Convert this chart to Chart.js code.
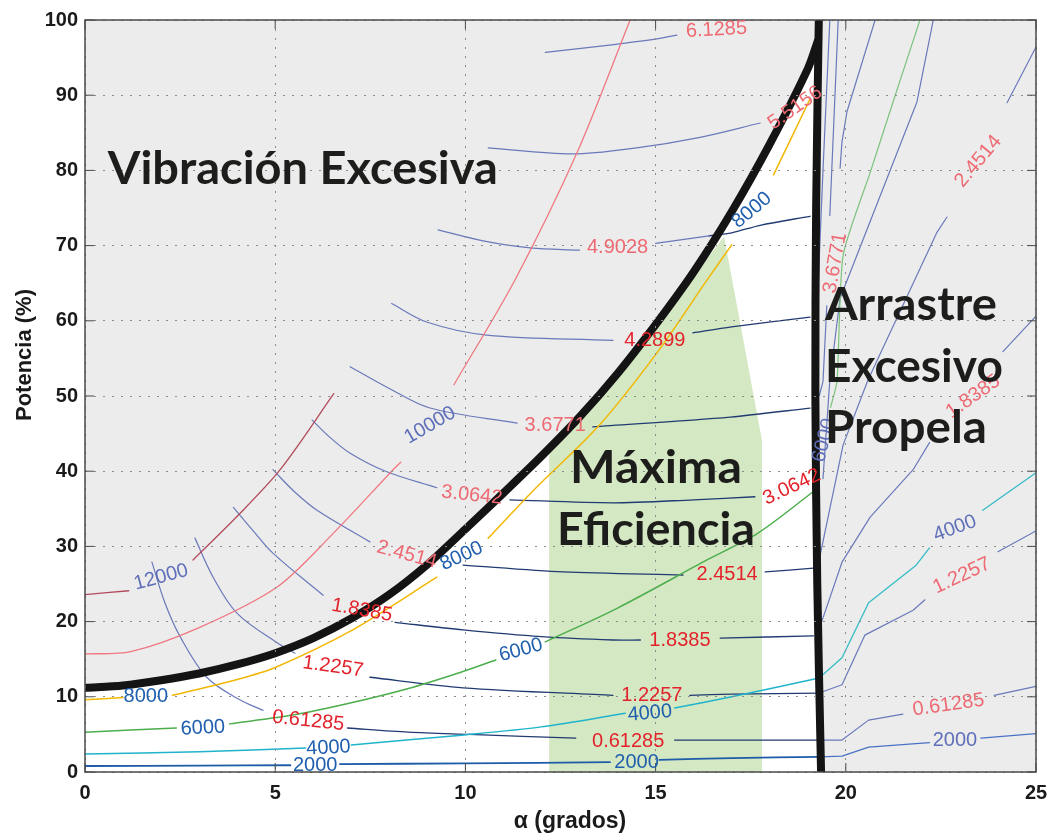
<!DOCTYPE html>
<html>
<head>
<meta charset="utf-8">
<script src="https://cdn.jsdelivr.net/npm/chart.js@4.4.1/dist/chart.umd.min.js"></script>
<style>
  html, body { margin: 0; padding: 0; background: #fff; }
</style>
</head>
<body>
<canvas id="chart" width="1051" height="836"></canvas>
<script>
// ------------------------------
// ejes
// ------------------------------
const xTicks = [0, 5, 10, 15, 20, 25];
const yTicks = [0, 10, 20, 30, 40, 50, 60, 70, 80, 90, 100];

// ------------------------------
// limites de operacion
// ------------------------------
const vibLimit = [[0,11.2],[1,11.5],[2,12.2],[3,13.1],[4,14.3],[5,15.8],[6,17.8],[7,20.4],[8,23.6],
  [9,27.6],[10,32.3],[11,37.1],[12,42.0],[13,47.2],[14,53.0],[15,59.5],[16,66.5],[17,74.5],
  [18,83.5],[19,93.5],[19.27,97.3]];
const dragLimit = [[19.29,100],[19.22,75],[19.2,50],[19.25,25],[19.35,0]];
const maxEffZone = [[12.2,0],[12.2,42.3],[13,46.8],[14,52.6],[15,59],[16,66],[16.8,71.2],[17.8,44],[17.8,0]];

// ------------------------------
// curvas de rpm (null = hueco para la etiqueta)
// ------------------------------
const rpm2000 = [[0,0.8],[3,0.85],[5.4,0.9],null,[6.7,1.05],[10,1.15],[13.8,1.3],null,[15.1,1.6],[17,1.85],[19.3,2.0]];
const rpm2000R = [[19.3,2.0],[19.9,2.1],[20.6,3.3],[22.2,3.9],null,[23.55,4.5],[25,5.1]];
const rpm4000 = [[0,2.4],[3,2.7],[5.8,3.2],null,[7.0,3.6],[9.9,4.9],[12,6.0],[14.2,7.8],null,[15.5,8.5],[17,10.0],[19.3,12.5]];
const rpm4000R = [[19.3,12.5],[19.9,15.2],[20.6,22.5],[21.85,27.5],[22.2,29.8],null,[23.6,34.8],[25,39.8]];
const rpm6000 = [[0,5.3],[2.4,5.85],null,[3.8,6.4],[5.5,7.6],[7,9.2],[8.5,11.1],[9.9,13.3],[10.8,14.9],null,
  [12.1,17.3],[14,21.8],[16.35,28.2],[17.7,31.8],[19.15,37.3]];
const rpm6000R = [[19.15,37.3],[19.3,40.3],null,[19.6,48.5],[19.77,52],[19.93,68.7],[20.66,80],[21.3,90],[21.95,100]];
const rpm8000 = [[0,9.6],[1.0,9.9],null,[2.3,10.2],[4,12.3],[5,13.9],[7,18.8],[9.25,25.9],null,[10.6,31.1],
  [11.8,37.5],[13.5,46.0],[15,55.5],[16.35,65.4],[17.0,70.1],null,[18.1,79.4],[19.05,89.4]];
const rpm10000 = [[0,15.7],[1.2,16.0],[3,19.2],[5.05,24.6],[6.5,31.6],[8.1,40.2],[8.3,41.2],null,
  [9.7,51.5],[11.3,65.4],[12.93,82.3],[14.33,100]];
const rpm12000 = [[0,23.6],[1.15,24.1],null,[2.84,28.2],[4,34.0],[5.13,40.2],[6.54,50.3]];

// ------------------------------
// curvas de coeficiente (gris / blanco / derecha)
// ------------------------------
const c0612G = [[1.76,27.9],[2.1,22.5],[2.5,18.0],[3.2,12.6],[4.07,9.6],[4.68,8.2]];
const c0612W = [[6.9,5.85],[8.5,5.3],[10.1,5.0],[12.9,4.5],null,[15.5,4.25],[17.5,4.25],[19.3,4.25]];
const c0612R = [[19.3,4.25],[19.9,4.25],[20.6,6.9],[21.5,7.7],null,[23.9,10.2],[25,11.4]];
const c1225G = [[2.89,31.1],[3.37,25.9],[4.0,21.1],[5.05,17.2],[5.52,15.8]];
const c1225W = [[7.49,12.6],[9.94,11.2],[13.88,10.2],null,[15.9,10.2],[17,10.35],[19.3,10.5]];
const c1225R = [[19.3,10.5],[19.9,11.6],[20.5,18.2],[21.77,21.5],[22.08,22.9],null,[24.0,29.3],[25.05,32.2]];
const c1838G = [[3.9,35.2],[4.4,32.2],[4.94,29.1],[6.26,23.5]];
const c1838W = [[8.15,19.9],[9.94,18.9],[12,18.0],[13.88,17.55],[14.6,17.55],null,[16.7,17.8],[19.15,18.1]];
const c1838R = [[19.32,19.3],[19.9,27.9],[20.64,33.9],[21.77,40.2],[22.2,43.8],null,[24.13,55.9],[25.03,60.8]];
const c2451G = [[4.94,40.2],[5.5,37.3],[6.1,34.8],[7.49,30.6]];
const c2451W = [[9.94,27.5],[12.57,26.6],[15.72,26.2],null,[17.88,26.6],[19.15,27.1]];
const c2451R = [[19.3,28.2],[19.93,43.5],[20.58,52.1],[22.4,71.8],[22.66,73.8],null,[24.24,89.0],[25.03,96.7]];
const c3064G = [[5.97,46.8],[6.44,44.5],[6.97,42.4],[7.9,40.0],[9.25,37.8]];
const c3064W = [[11.17,36.2],[13.88,35.8],[16,36.2],[17.61,36.6]];
const c3064R = [[19.4,39.0],[19.58,52.1],[19.85,63.0],[21.87,89.1],[22.3,100]];
const c3677G = [[6.97,53.9],[8.0,51.0],[9.07,48.4],[11.36,46.4]];
const c3677W = [[13.35,45.9],[16.96,47.2],[19.06,48.4]];
const c3677R = [[19.3,50],[19.4,51.9],[19.5,62],null,[19.58,74],[19.8,100]];
const c4289G = [[8.06,62.3],[9.0,59.8],[10.56,58.1],[13.88,57.4]];
const c4289W = [[15.98,58.4],[17,59.2],[19.06,60.5]];
const c4289R = [[19.24,60.8],[19.4,80],[19.58,100]];
const c4902G = [[9.28,72.1],[10.5,70.6],[11.7,69.7],[13.0,69.4],null,[15.0,70.3],[16.4,71.3]];
const c4902W = [[16.4,71.3],[17.0,71.7],[17.75,72.7],[19.06,73.9]];
const c4902R = [[19.85,80.3],[19.9,83.8],[20.03,87.8],[20.77,100]];
const c5515G = [[10.6,83.0],[12.8,82.2],[14.5,83.0],[16.17,84.4],[17.75,86.3]];
const c6128G = [[12.1,95.7],[13.5,96.5],[15.04,97.5],[15.56,98.0]];

// etiquetas de las curvas: texto, x, y, giro (grados), color
const contourLabels = [
  ["0.61285", 5.87, 6.8, 6, "red"], ["1.2257", 6.52, 14.0, 8, "red"], ["1.8385", 7.28, 21.5, 10, "red"],
  ["2.4514", 8.46, 28.9, 15, "pink"], ["3.0642", 10.17, 36.8, 6, "pink"], ["3.6771", 12.36, 46.1, 0, "pink"],
  ["4.2899", 14.98, 57.4, 0, "red"], ["4.9028", 14.0, 69.7, 0, "pink"], ["5.5156", 18.67, 88.3, -35, "pink"],
  ["6.1285", 16.6, 98.7, -3, "pink"],
  ["0.61285", 14.28, 4.1, 0, "red"], ["1.2257", 14.9, 10.2, 0, "red"], ["1.8385", 15.64, 17.55, 0, "red"],
  ["2.4514", 16.88, 26.2, 0, "red"], ["3.0642", 18.58, 37.9, -25, "red"],
  ["0.61285", 22.7, 8.9, -8, "pink"], ["1.2257", 23.05, 26.1, -25, "pink"], ["1.8385", 23.35, 49.9, -35, "pink"],
  ["2.4514", 23.48, 81.2, -50, "pink"], ["3.6771", 19.72, 67.7, -80, "pink"],
  ["2000", 6.05, 0.8, 0, "blue"], ["2000", 14.5, 1.3, 0, "blue"], ["4000", 6.4, 3.2, -3, "blue"],
  ["4000", 14.85, 7.8, -5, "blue"], ["6000", 3.1, 5.85, -3, "blue"], ["6000", 11.46, 16.2, -15, "blue"],
  ["8000", 1.6, 10.0, 0, "blue"], ["8000", 9.9, 28.7, -25, "blue"], ["8000", 17.53, 74.7, -40, "blue"],
  ["12000", 2.0, 25.9, -15, "slate"], ["10000", 9.07, 46.1, -30, "slate"], ["6000", 19.43, 44.1, -75, "slate"],
  ["4000", 22.87, 32.4, -20, "slate"], ["2000", 22.87, 4.25, 0, "slate"]
];

// textos de zonas: texto, x izquierda, y de la base, ancho en px
const zoneTexts = [
  ["Vibración Excesiva", 0.6, 78.2, 390],
  ["Máxima", 12.75, 38.4, 172],
  ["Eficiencia", 12.41, 30.2, 198],
  ["Arrastre", 19.45, 60.1, 172],
  ["Excesivo", 19.45, 51.9, 178],
  ["Propela", 19.45, 43.75, 162]
];

const labelColors = { red: "#e3232c", pink: "#ee6a73", blue: "#1f5fae", slate: "#5f6fb8" };
const SLATE = "#6a79ba", NAVY = "#213b72";

function pts(a) {
  return a.map(p => (p ? { x: p[0], y: p[1] } : { x: null, y: null }));
}

function line(data, color, width, tension, order) {
  return {
    data: pts(data),
    showLine: true,
    borderColor: color,
    borderWidth: width,
    pointRadius: 0,
    tension: tension,
    fill: false,
    spanGaps: false,
    borderJoinStyle: "round",
    borderCapStyle: "round",
    order: order == null ? 5 : order
  };
}

const datasets = [
  // limites negros
  line(vibLimit, "#141414", 8, 0.3, 1),
  line(dragLimit, "#141414", 8, 0.3, 1),

  line(rpm2000, "#1e5ca8", 1.8, 0.3), line(rpm2000R, "#4a72c4", 1.3, 0),
  line(rpm4000, "#20b4cc", 1.5, 0.3), line(rpm4000R, "#35bcc6", 1.3, 0),
  line(rpm6000, "#4cae4c", 1.5, 0.3), line(rpm6000R, "#7cc37c", 1.2, 0.2),
  line(rpm8000, "#f2b705", 1.5, 0.3),
  line(rpm10000, "#f07880", 1.3, 0.3),
  line(rpm12000, "#b34b5c", 1.3, 0.3),

  line(c0612G, SLATE, 1.2, 0.35), line(c0612W, NAVY, 1.3, 0.3), line(c0612R, SLATE, 1.2, 0),
  line(c1225G, SLATE, 1.2, 0.35), line(c1225W, NAVY, 1.3, 0.3), line(c1225R, SLATE, 1.2, 0),
  line(c1838G, SLATE, 1.2, 0.35), line(c1838W, NAVY, 1.3, 0.3), line(c1838R, SLATE, 1.2, 0),
  line(c2451G, SLATE, 1.2, 0.35), line(c2451W, NAVY, 1.3, 0.3), line(c2451R, SLATE, 1.2, 0),
  line(c3064G, SLATE, 1.2, 0.35), line(c3064W, NAVY, 1.3, 0.3), line(c3064R, SLATE, 1.2, 0),
  line(c3677G, SLATE, 1.2, 0.35), line(c3677W, NAVY, 1.3, 0.3), line(c3677R, SLATE, 1.2, 0),
  line(c4289G, SLATE, 1.2, 0.35), line(c4289W, NAVY, 1.3, 0.3), line(c4289R, SLATE, 1.2, 0),
  line(c4902G, SLATE, 1.2, 0.35), line(c4902W, NAVY, 1.3, 0.3), line(c4902R, SLATE, 1.2, 0),
  line(c5515G, SLATE, 1.2, 0.35),
  line(c6128G, SLATE, 1.2, 0.35),

  // zona de maxima eficiencia
  {
    data: pts(maxEffZone), showLine: true, borderWidth: 0, pointRadius: 0,
    backgroundColor: "#d4e8c3", fill: "origin", order: 19, tension: 0
  },
  // zona permitida (blanca)
  {
    data: pts(vibLimit.concat(dragLimit.slice(2))), showLine: true, borderWidth: 0, pointRadius: 0,
    backgroundColor: "#ffffff", fill: "origin", order: 20, tension: 0
  }
];

// ------------------------------
// plugin: fondo gris, marco, etiquetas y textos
// ------------------------------
const decorPlugin = {
  id: "decor",
  beforeDraw(chart) {
    const { ctx, chartArea: a } = chart;
    ctx.save();
    ctx.fillStyle = "#ececec";
    ctx.fillRect(a.left, a.top, a.right - a.left, a.bottom - a.top);
    ctx.restore();
  },
  afterDraw(chart) {
    const { ctx, chartArea: a } = chart;
    const xs = chart.scales.x, ys = chart.scales.y;
    ctx.save();

    // marco y marcas interiores
    ctx.strokeStyle = "#4a4a4a";
    ctx.lineWidth = 1.5;
    ctx.strokeRect(a.left, a.top, a.right - a.left, a.bottom - a.top);
    ctx.lineWidth = 1;
    ctx.beginPath();
    xTicks.forEach(v => {
      const px = xs.getPixelForValue(v);
      ctx.moveTo(px, a.bottom); ctx.lineTo(px, a.bottom - 9);
      ctx.moveTo(px, a.top); ctx.lineTo(px, a.top + 9);
    });
    yTicks.forEach(v => {
      const py = ys.getPixelForValue(v);
      ctx.moveTo(a.left, py); ctx.lineTo(a.left + 9, py);
      ctx.moveTo(a.right, py); ctx.lineTo(a.right - 9, py);
    });
    ctx.stroke();

    // etiquetas de curvas
    ctx.font = "20px 'Liberation Sans', Arial, sans-serif";
    ctx.textAlign = "center";
    ctx.textBaseline = "middle";
    contourLabels.forEach(([t, x, y, r, c]) => {
      ctx.save();
      ctx.translate(xs.getPixelForValue(x), ys.getPixelForValue(y));
      ctx.rotate(r * Math.PI / 180);
      ctx.fillStyle = labelColors[c];
      ctx.fillText(t, 0, 0);
      ctx.restore();
    });

    // textos de zonas
    ctx.font = "bold 45px Lato, 'Open Sans', sans-serif";
    ctx.textAlign = "left";
    ctx.textBaseline = "alphabetic";
    ctx.fillStyle = "#1d1d1b";
    zoneTexts.forEach(([t, x, y, w]) => {
      const m = ctx.measureText(t).width;
      ctx.save();
      ctx.translate(xs.getPixelForValue(x), ys.getPixelForValue(y));
      ctx.scale(w / m, 1);
      ctx.fillText(t, 0, 0);
      ctx.restore();
    });

    // titulos de ejes
    ctx.fillStyle = "#1a1a1a";
    ctx.font = "bold 22px 'Liberation Sans', Arial, sans-serif";
    ctx.textAlign = "center";
    ctx.save();
    ctx.translate(31, 355);
    ctx.rotate(-Math.PI / 2);
    ctx.fillText("Potencia (%)", 0, 0);
    ctx.restore();
    ctx.font = "bold 23px 'Liberation Sans', Arial, sans-serif";
    ctx.fillText("α (grados)", 570, 828);

    ctx.restore();
  }
};

new Chart(document.getElementById("chart"), {
  type: "scatter",
  data: { datasets },
  options: {
    responsive: false,
    devicePixelRatio: 1,
    animation: false,
    events: [],
    layout: { padding: { top: 20, right: 15, left: 0, bottom: 0 } },
    plugins: { legend: { display: false }, tooltip: { enabled: false } },
    scales: {
      x: {
        type: "linear", min: 0, max: 25,
        afterBuildTicks: s => { s.ticks = xTicks.map(v => ({ value: v })); },
        afterFit: s => { s.height = 64; s.paddingLeft = 0; s.paddingRight = 0; },
        ticks: { color: "#1a1a1a", padding: 9, font: { family: "'Liberation Sans', Arial", size: 20, weight: "bold" } },
        grid: { color: "#8c8c8c", lineWidth: 1, drawTicks: false, tickLength: 0, z: 1 },
        border: { display: false, dash: [2, 7] }
      },
      y: {
        type: "linear", min: 0, max: 100,
        afterBuildTicks: s => { s.ticks = yTicks.map(v => ({ value: v })); },
        afterFit: s => { s.width = 85; s.paddingTop = 0; s.paddingBottom = 0; },
        ticks: { color: "#1a1a1a", padding: 7, font: { family: "'Liberation Sans', Arial", size: 20, weight: "bold" } },
        grid: { color: "#8c8c8c", lineWidth: 1, drawTicks: false, tickLength: 0, z: 1 },
        border: { display: false, dash: [2, 7] }
      }
    }
  },
  plugins: [decorPlugin]
});
</script>
</body>
</html>
